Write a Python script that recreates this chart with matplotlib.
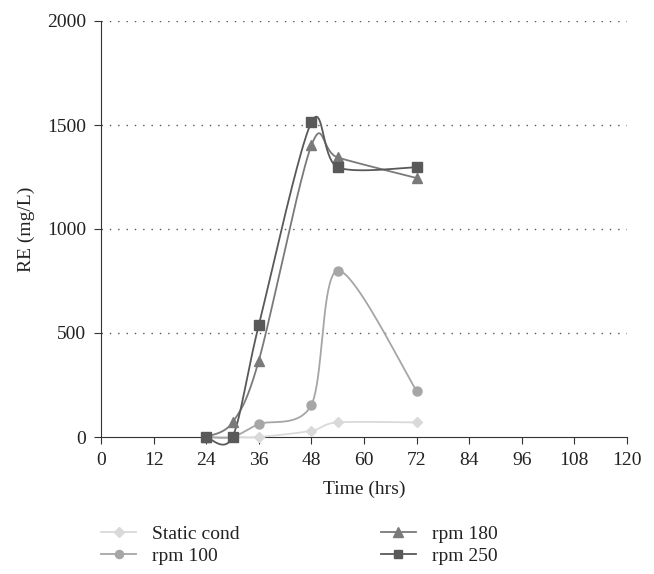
import numpy as np
import matplotlib
matplotlib.use("Agg")
import matplotlib.pyplot as plt
from matplotlib.lines import Line2D

plt.rcParams['font.family'] = ['Liberation Serif', 'DejaVu Serif']

time = [24, 30, 36, 48, 54, 72]
static_cond = [0, 0, 0, 30, 70, 70]
rpm_100 = [0, 0, 62, 155, 800, 222]
rpm_180 = [0, 70, 367, 1402, 1344, 1245]
rpm_250 = [0, 0, 538, 1513, 1297, 1297]

labels = ["Static cond", "rpm 100", "rpm 180", "rpm 250"]
x_ticks = [0, 12, 24, 36, 48, 60, 72, 84, 96, 108, 120]
y_ticks = [0, 500, 1000, 1500, 2000]


def smooth(x, y, n=40, k=1 / 6.5):
    x = np.asarray(x, float)
    y = np.asarray(y, float)
    P = np.column_stack([x, y])
    Pp = np.vstack([P[0], P, P[-1]])
    out = []
    for i in range(len(P) - 1):
        p0, p1, p2, p3 = Pp[i], Pp[i + 1], Pp[i + 2], Pp[i + 3]
        b0 = p1
        b1 = p1 + (p2 - p0) * k
        b2 = p2 - (p3 - p1) * k
        b3 = p2
        t = np.linspace(0, 1, n)[:, None]
        seg = ((1 - t) ** 3) * b0 + 3 * ((1 - t) ** 2) * t * b1 + 3 * (1 - t) * t ** 2 * b2 + t ** 3 * b3
        if i > 0:
            seg = seg[1:]
        out.append(seg)
    out = np.vstack(out)
    return out[:, 0], out[:, 1]


W, H = 654, 574
FS = 14
fig = plt.figure(figsize=(W / 100, H / 100), dpi=100)
ax = fig.add_axes([101 / W, 1 - 437 / H, 526 / W, 416 / H])

styles = [
    (static_cond, '#d9d9d9', 'D', 5.5),
    (rpm_100, '#a6a6a6', 'o', 6.5),
    (rpm_180, '#7a7a7a', '^', 7.5),
    (rpm_250, '#595959', 's', 6.5),
]

handles = []
for (vals, col, mk, ms), lab in zip(styles, labels):
    sx, sy = smooth(time, vals)
    ax.plot(sx, sy, color=col, lw=1.3, clip_on=False, zorder=3)
    ax.plot(time, vals, linestyle='none', marker=mk, ms=ms, color=col,
            markeredgecolor=col, clip_on=False, zorder=4)
    h = Line2D([], [], color=col, lw=1.3, marker=mk, ms=ms * 0.9, markeredgecolor=col)
    handles.append(h)

ax.set_xlim(0, 120)
ax.set_ylim(0, 2000)
ax.set_xticks(x_ticks)
ax.set_yticks(y_ticks)
ax.spines['top'].set_visible(False)
ax.spines['right'].set_visible(False)
ax.spines['left'].set_color('#333333')
ax.spines['bottom'].set_color('#333333')
ax.tick_params(axis='both', direction='out', length=5, color='#333333',
               labelsize=FS, labelcolor='#222222')
ax.tick_params(axis='x', pad=6)
ax.tick_params(axis='y', pad=5.5)
for yv in y_ticks[1:]:
    ax.axhline(yv, color='#555555', lw=1, linestyle=(0, (1, 5)), zorder=1)

ax.set_xlabel("Time (hrs)", fontsize=FS, color='#222222', labelpad=8.5)
ax.set_ylabel("RE (mg/L)", fontsize=FS, color='#222222', labelpad=9)

legkw = dict(frameon=False, fontsize=FS, handlelength=1.8, labelspacing=0.25,
             handletextpad=0.8, labelcolor='#222222', borderpad=0, borderaxespad=0)
leg1 = fig.legend(handles[:2], labels[:2], loc='upper left',
                  bbox_to_anchor=(101 / W, 1 - 525 / H), **legkw)
leg2 = fig.legend(handles[2:], labels[2:], loc='upper left',
                  bbox_to_anchor=(381 / W, 1 - 525 / H), **legkw)

fig.savefig("out.png", dpi=100)
